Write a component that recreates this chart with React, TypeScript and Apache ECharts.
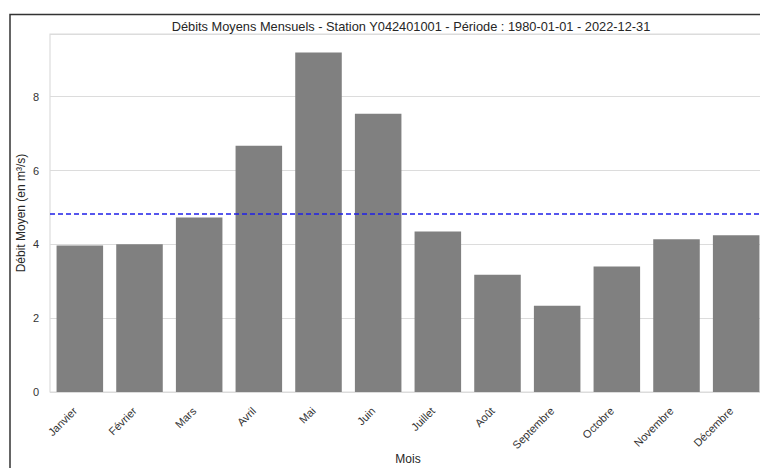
import React, { useEffect, useRef } from "react";
import * as echarts from "echarts";

const months = ["Janvier", "Février", "Mars", "Avril", "Mai", "Juin", "Juillet", "Août", "Septembre", "Octobre", "Novembre", "Décembre"];
const debits = [3.97, 4.0, 4.73, 6.67, 9.2, 7.54, 4.35, 3.18, 2.34, 3.4, 4.14, 4.25];
const moyenne = 4.84;
const yTicks = [0, 2, 4, 6, 8];
const titleText = "Débits Moyens Mensuels - Station Y042401001 - Période : 1980-01-01 - 2022-12-31";

const FONT = "Liberation Sans, Arial, sans-serif";

export default function App() {
  const ref = useRef<HTMLDivElement>(null);
  useEffect(() => {
    if (!ref.current) return;
    const chart = echarts.init(ref.current, undefined, { renderer: "svg" });
    chart.setOption({
      animation: false,
      backgroundColor: "#ffffff",
      title: {
        text: titleText,
        left: 406,
        top: 15,
        textAlign: "center",
        textStyle: { fontFamily: FONT, fontSize: 12.8, fontWeight: "normal", color: "#262626" },
      },
      graphic: [
        {
          type: "rect",
          left: 7.5,
          top: 12,
          shape: { width: 800, height: 500 },
          style: { fill: "none", stroke: "#333333", lineWidth: 1.5 },
          silent: true,
        },
      ],
      grid: {
        left: 50,
        top: 34,
        width: 716,
        height: 358,
        containLabel: false,
        outerBoundsMode: "none",
        show: true,
        borderColor: "#dcdcdc",
        borderWidth: 1.2,
        backgroundColor: "transparent",
      },
      xAxis: {
        type: "category",
        data: months,
        axisLine: { show: false },
        axisTick: { show: false },
        splitLine: { show: false },
        axisLabel: {
          rotate: 45,
          interval: 0,
          margin: 12,
          padding: [0, 7, 0, 0],
          fontFamily: FONT,
          fontSize: 11,
          color: "#333333",
        },
        name: "Mois",
        nameLocation: "middle",
        nameGap: 61,
        nameMoveOverlap: false,
        nameTextStyle: { fontFamily: FONT, fontSize: 12, color: "#262626" },
      },
      yAxis: {
        type: "value",
        min: 0,
        max: 9.7,
        interval: 2,
        axisLine: { show: false },
        axisTick: { show: false },
        splitLine: { show: true, lineStyle: { color: "#dcdcdc", width: 1.2 } },
        axisLabel: {
          margin: 11,
          fontFamily: FONT,
          fontSize: 11,
          color: "#333333",
          formatter: (v: number) => (yTicks.includes(v) ? String(v) : ""),
        },
        name: "Débit Moyen (en m³/s)",
        nameLocation: "middle",
        nameGap: 23,
        nameMoveOverlap: false,
        nameTextStyle: { fontFamily: FONT, fontSize: 12, color: "#262626" },
      },
      series: [
        {
          type: "bar",
          data: debits,
          barWidth: "78%",
          itemStyle: { color: "#808080" },
          markLine: {
            silent: true,
            symbol: ["none", "none"],
            label: { show: false },
            lineStyle: { color: "#1f1fe8", type: [5, 3], width: 1.6 },
            data: [{ yAxis: moyenne }],
          },
        },
      ],
    });
    return () => chart.dispose();
  }, []);
  return <div ref={ref} style={{ position: "absolute", left: 0, top: 0, width: 760, height: 468 }} />;
}
